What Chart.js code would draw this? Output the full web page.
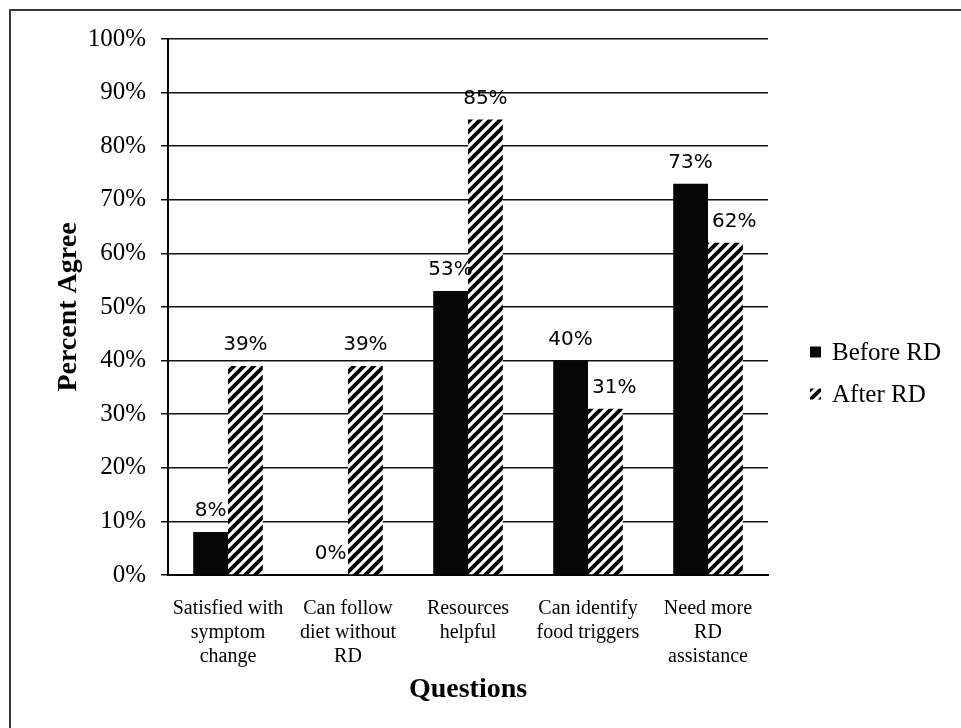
<!DOCTYPE html>
<html>
<head>
<meta charset="utf-8">
<script src="https://cdn.jsdelivr.net/npm/chart.js@4/dist/chart.umd.min.js"></script>
<style>
  html, body { margin: 0; padding: 0; background: #fff; }
  #wrap { position: relative; width: 961px; height: 728px; overflow: hidden; }
  #frame { position: absolute; left: 9px; top: 9px; width: 960px; height: 730px;
           border-top: 2px solid #3a3a3a; border-left: 2px solid #3a3a3a; box-sizing: border-box; }
  canvas { position: absolute; left: 0; top: 0; }
</style>
</head>
<body>
<div id="wrap">
  <div id="frame"></div>
  <canvas id="chart" width="961" height="728"></canvas>
</div>
<script>
// Survey questions (multi-line category labels)
const questions = [
  ["Satisfied with", "symptom", "change"],
  ["Can follow", "diet without", "RD"],
  ["Resources", "helpful"],
  ["Can identify", "food triggers"],
  ["Need more", "RD", "assistance"]
];
// Percent of respondents who agree
const beforeRD = [8, 0, 53, 40, 73];
const afterRD = [39, 39, 85, 31, 62];
const seriesNames = ["Before RD", "After RD"];
// Y axis ticks
const yMin = 0, yMax = 100, yStep = 10;

const SERIF = '"Liberation Serif", "Times New Roman", serif';

// Diagonal hatch fill for the "After" series
function makeHatch() {
  const s = 10;
  const c = document.createElement('canvas');
  c.width = s; c.height = s;
  const g = c.getContext('2d');
  g.fillStyle = '#fff';
  g.fillRect(0, 0, s, s);
  g.strokeStyle = '#000';
  g.lineWidth = 3.8;
  g.lineCap = 'square';
  g.beginPath();
  g.moveTo(-s, s); g.lineTo(s, -s);
  g.moveTo(0, s); g.lineTo(s, 0);
  g.moveTo(0, 2 * s); g.lineTo(2 * s, 0);
  g.stroke();
  return g.createPattern(c, 'repeat');
}

const ctx = document.getElementById('chart').getContext('2d');
const hatch = makeHatch();

// Value labels above each bar; a label that would sit over a taller
// neighbouring bar on its left is moved just past that bar's edge.
const valueLabels = {
  id: 'valueLabels',
  afterDatasetsDraw(chart) {
    const c = chart.ctx;
    c.save();
    c.font = '20px "DejaVu Sans", sans-serif';
    c.fillStyle = '#000';
    c.textAlign = 'center';
    c.textBaseline = 'middle';
    const metas = chart.data.datasets.map((_, di) => chart.getDatasetMeta(di));
    chart.data.datasets.forEach((ds, di) => {
      metas[di].data.forEach((bar, i) => {
        const text = ds.data[i] + '%';
        const w = c.measureText(text).width;
        let x = bar.x;
        const y = bar.y - 21;
        if (di > 0) {
          const prev = metas[di - 1].data[i];
          const prevRight = prev.x + prev.width / 2;
          if (prev.y < y + 10 && x - w / 2 < prevRight) {
            x = prevRight + 4 + w / 2;
          }
        }
        c.fillText(text, x, y);
      });
    });
    c.restore();
  }
};

// Legend at the right, built from the datasets
const sideLegend = {
  id: 'sideLegend',
  afterDraw(chart) {
    const c = chart.ctx;
    const x0 = chart.chartArea.right + 42;
    const yc = [352, 394];
    c.save();
    c.font = '25px ' + SERIF;
    c.textBaseline = 'middle';
    c.textAlign = 'left';
    chart.data.datasets.forEach((ds, i) => {
      c.fillStyle = ds.backgroundColor;
      c.fillRect(x0, yc[i] - 5.5, 11, 11);
      c.fillStyle = '#000';
      c.fillText(ds.label, x0 + 22, yc[i] + 1);
    });
    c.restore();
  }
};

new Chart(ctx, {
  type: 'bar',
  data: {
    labels: questions,
    datasets: [
      { label: seriesNames[0], data: beforeRD, backgroundColor: '#060606', borderWidth: 0,
        categoryPercentage: 0.58, barPercentage: 1.0 },
      { label: seriesNames[1], data: afterRD, backgroundColor: hatch, borderWidth: 0,
        categoryPercentage: 0.58, barPercentage: 1.0 }
    ]
  },
  options: {
    responsive: false,
    animation: false,
    layout: { padding: { top: 39, right: 193, bottom: 0, left: 0 } },
    plugins: {
      legend: { display: false },
      tooltip: { enabled: false }
    },
    scales: {
      x: {
        grid: { display: false },
        border: { display: true, color: '#000', width: 2 },
        ticks: {
          color: '#000',
          font: { family: SERIF, size: 20, lineHeight: 1.2 },
          padding: 14,
          maxRotation: 0,
          autoSkip: false
        },
        title: {
          display: true,
          text: 'Questions',
          color: '#000',
          font: { family: SERIF, size: 28, weight: 'bold' },
          padding: { top: 0, bottom: 21 }
        },
        afterFit(scale) { scale.height = 153; }
      },
      y: {
        min: yMin,
        max: yMax,
        grid: { color: '#111', lineWidth: 1.5, tickLength: 7, drawTicks: true },
        border: { display: true, color: '#000', width: 2 },
        ticks: {
          stepSize: yStep,
          color: '#000',
          font: { family: SERIF, size: 25 },
          padding: 15,
          callback: v => v + '%'
        },
        title: {
          display: true,
          text: 'Percent Agree',
          color: '#000',
          font: { family: SERIF, size: 28, weight: 'bold' },
          padding: { top: 52, bottom: 0 }
        },
        afterFit(scale) { scale.width = 168; }
      }
    }
  },
  plugins: [valueLabels, sideLegend]
});
</script>
</body>
</html>
